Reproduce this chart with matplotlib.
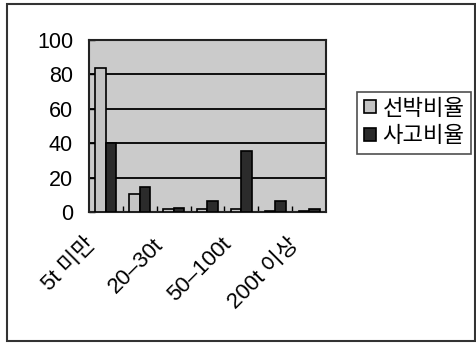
import matplotlib
matplotlib.use("Agg")
import matplotlib.pyplot as plt
from matplotlib.patches import Rectangle
from matplotlib.transforms import ScaledTranslation
import numpy as np

plt.rcParams['font.family'] = ['Liberation Sans', 'Noto Sans CJK KR']

# tonnage classes (only every other one gets a label on the axis)
categories = ["5t 미만", "5–20t", "20–30t", "30–50t", "50–100t", "100–200t", "200t 이상"]
ship_ratio = [84, 10.5, 1.6, 1.8, 1.5, 0.6, 0.3]        # 선박비율
accident_ratio = [40, 14.5, 2.6, 6.5, 35.5, 6.5, 1.5]   # 사고비율
y_ticks = [0, 20, 40, 60, 80, 100]

fig = plt.figure(figsize=(4.77, 3.43), dpi=100)
ax = fig.add_axes([89 / 477, 1 - 212 / 343, 237 / 477, 172 / 343])

x = np.arange(len(categories))
w = 0.31

ax.set_facecolor("#cbcbcb")
ax.bar(x - w / 2, ship_ratio, w, color="#c4c4c4", edgecolor="black",
       linewidth=1.2, label="선박비율", zorder=3)
ax.bar(x + w / 2, accident_ratio, w, color="#2b2b2b", edgecolor="black",
       linewidth=1.2, label="사고비율", zorder=3)

ax.set_xlim(-0.5, len(categories) - 0.5)
ax.set_ylim(0, 100)

# horizontal gridlines
ax.set_yticks(y_ticks)
ax.set_yticklabels([str(v) for v in y_ticks], fontsize=15.5)
ax.yaxis.grid(True, color="black", linewidth=1.3, zorder=1)
ax.set_axisbelow(True)
ax.tick_params(axis="y", direction="in", length=4, width=1, pad=11.5)

# category ticks between groups, labels on every other class
ax.set_xticks(x[::2])
ax.set_xticklabels(categories[::2], rotation=45, ha="right", va="top",
                   rotation_mode="anchor", fontsize=16)
ax.tick_params(axis="x", length=0, pad=0)
shift = ScaledTranslation(-0.21, -0.22, fig.dpi_scale_trans)
for lbl in ax.get_xticklabels():
    lbl.set_transform(lbl.get_transform() + shift)
ax.set_xticks(np.arange(0.5, len(categories) - 0.5, 1), minor=True)
ax.tick_params(axis="x", which="minor", direction="in", length=4, width=1)

for side in ax.spines.values():
    side.set_linewidth(1.5)
    side.set_color("#222222")

leg = fig.legend(loc="upper left", bbox_to_anchor=(357 / 477, 1 - 92 / 343),
                 fontsize=16, frameon=True, fancybox=False,
                 handlelength=0.55, handleheight=0.55, handletextpad=0.3,
                 borderpad=0.3, labelspacing=0.3, borderaxespad=0)
leg.get_frame().set_edgecolor("#222222")
leg.get_frame().set_linewidth(1.2)

# chart area border
fig.patches.append(Rectangle((7 / 477, 2 / 343), 468 / 477, 337 / 343,
                             transform=fig.transFigure, fill=False,
                             edgecolor="#333333", linewidth=1.5))

fig.savefig("out.png", dpi=100)
